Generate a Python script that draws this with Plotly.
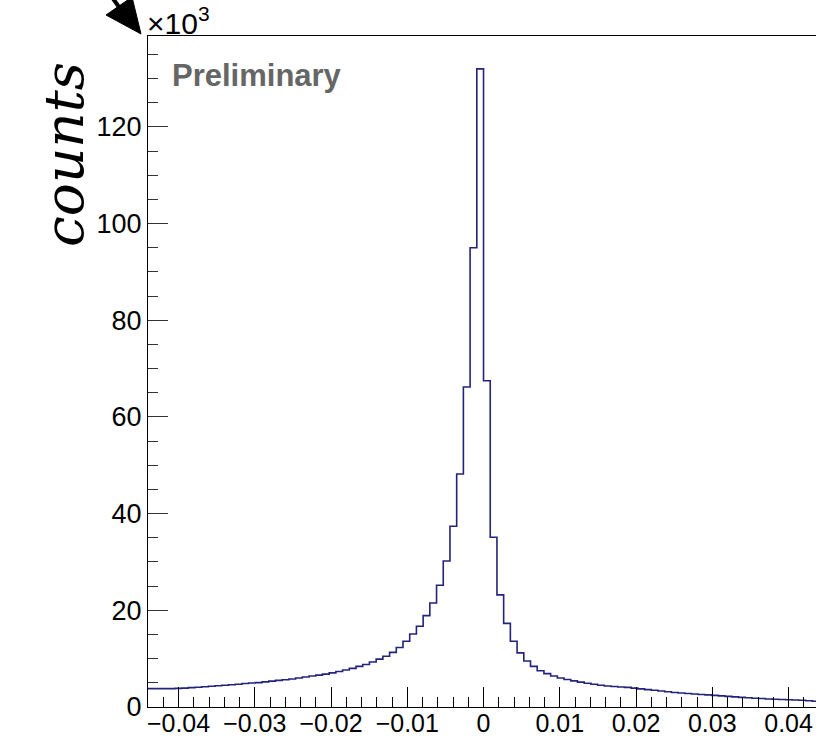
import numpy as np
import plotly.graph_objects as go

# ---- data (counts in units of 10^3), 100 bins over [-0.044, 0.044] ----
x_min, x_max, n_bins = -0.044, 0.044, 100
counts_k = [
    3.80, 3.80, 3.80, 3.80, 3.85, 3.90, 4.00, 4.10, 4.20, 4.30,
    4.40, 4.50, 4.60, 4.70, 4.85, 4.95, 5.05, 5.20, 5.35, 5.50,
    5.65, 5.80, 6.00, 6.20, 6.40, 6.60, 6.80, 7.05, 7.35, 7.65,
    8.00, 8.40, 8.80, 9.30, 9.90, 10.5, 11.3, 12.3, 13.6, 15.1,
    16.7, 18.9, 21.5, 25.2, 30.2, 37.4, 48.2, 66.2, 95.0, 132.0,
    67.5, 35.1, 23.2, 17.3, 13.6, 11.2, 9.5, 8.4, 7.5, 6.9,
    6.4, 6.0, 5.7, 5.4, 5.15, 4.9, 4.7, 4.5, 4.35, 4.25,
    4.15, 4.05, 3.9, 3.75, 3.6, 3.45, 3.3, 3.15, 3.0, 2.9,
    2.8, 2.7, 2.6, 2.5, 2.4, 2.3, 2.2, 2.1, 2.0, 1.9,
    1.8, 1.75, 1.65, 1.6, 1.55, 1.5, 1.45, 1.4, 1.3, 1.2,
]
x_tick_vals = [-0.04, -0.03, -0.02, -0.01, 0, 0.01, 0.02, 0.03, 0.04]
x_tick_text = ["\u22120.04", "\u22120.03", "\u22120.02", "\u22120.01", "0",
               "0.01", "0.02", "0.03", "0.04"]
y_tick_vals = [0, 20, 40, 60, 80, 100, 120]
y_label = "counts"
watermark = "Preliminary"

edges = np.linspace(x_min, x_max, n_bins + 1)
ystep = list(counts_k) + [counts_k[-1]]

# ---- layout geometry (pixels) ----
W, Hh = 816, 738
L, T, R, B = 148, 36, 0, 31
PW, PH = W - L - R, Hh - T - B


def px(xp):
    return (xp - L) / PW


def py(yp):
    return 1 - (yp - T) / PH


fig = go.Figure()
fig.add_trace(go.Scatter(
    x=edges, y=ystep, mode="lines", line_shape="hv",
    line=dict(color="#23237c", width=1.6), hoverinfo="skip", showlegend=False,
))

xtickfont = dict(family="Liberation Sans, Arial, sans-serif", size=25, color="black")
ytickfont = dict(family="Liberation Sans, Arial, sans-serif", size=27, color="black")

fig.update_layout(
    width=W, height=Hh,
    margin=dict(l=L, r=R, t=T, b=B, pad=0, autoexpand=False),
    paper_bgcolor="white", plot_bgcolor="white",
    xaxis=dict(
        range=[x_min, 0.0436], showgrid=False, zeroline=False, automargin=False,
        showline=True, linecolor="black", linewidth=1, mirror=True,
        ticks="inside", ticklen=20, tickwidth=1, tickcolor="black",
        tickvals=x_tick_vals, ticktext=x_tick_text, tickfont=xtickfont,
        ticklabelstandoff=-6,
        minor=dict(dtick=0.002, tick0=0, ticks="inside", ticklen=10,
                   tickwidth=1, tickcolor="black", showgrid=False),
    ),
    yaxis=dict(
        range=[0, 138.8], showgrid=False, zeroline=False, automargin=False,
        showline=True, linecolor="black", linewidth=1, mirror=False,
        ticks="inside", ticklen=20, tickwidth=1, tickcolor="#333333",
        tickvals=y_tick_vals, tickfont=ytickfont,
        minor=dict(dtick=5, tick0=0, ticks="inside", ticklen=10,
                   tickwidth=1, tickcolor="#333333", showgrid=False),
    ),
)

# x10^3 multiplier
fig.add_annotation(
    x=px(145), y=py(42), xref="paper", yref="paper",
    xanchor="left", yanchor="bottom", showarrow=False,
    text="\u00d710<sup>3</sup>",
    font=dict(family="Liberation Sans, Arial, sans-serif", size=30, color="black"),
)

# Preliminary
fig.add_annotation(
    x=px(170), y=py(76), xref="paper", yref="paper",
    xanchor="left", yanchor="middle", showarrow=False,
    text="<b>%s</b>" % watermark,
    font=dict(family="Liberation Sans, Arial, sans-serif", size=31, color="#666666"),
)

# y label
fig.add_annotation(
    x=px(64), y=py(155), xref="paper", yref="paper",
    xanchor="center", yanchor="middle", showarrow=False, textangle=-90,
    text="<i>%s</i>" % y_label,
    font=dict(family="DejaVu Serif, serif", size=55, color="black"),
)

# arrow (cropped) at top-left corner
tip = (141, 34)
b1 = (106, 15)
b2 = (132, -3)
path = "M %f,%f L %f,%f L %f,%f Z" % (px(tip[0]), py(tip[1]), px(b1[0]), py(b1[1]),
                                     px(b2[0]), py(b2[1]))
fig.add_shape(type="path", path=path, xref="paper", yref="paper",
              fillcolor="black", line=dict(color="black", width=1))
fig.add_shape(type="line", xref="paper", yref="paper",
              x0=px(119), y0=py(7), x1=px(96), y1=py(-25),
              line=dict(color="black", width=4))

fig.write_html("out.html")
